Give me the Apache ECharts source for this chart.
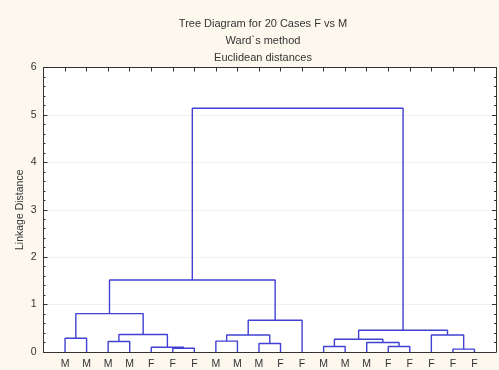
<!DOCTYPE html>
<html><head><meta charset="utf-8">
<script src="https://cdn.jsdelivr.net/npm/echarts@6/dist/echarts.min.js"></script>
<style>html,body{margin:0;padding:0;background:#fdf8ee}#c{width:499px;height:370px}</style>
</head><body><div id="c"></div>
<script>
// Leaf labels (left to right)
const leafLabels = ['M','M','M','M','F','F','F','M','M','M','F','F','M','M','M','F','F','F','F','F'];
// Merges: [left node, right node, linkage distance]; nodes 0..19 are leaves, 20+ are merged clusters in order
const mergeLeft  = [0, 2, 5, 4, 21, 20, 7, 9, 26, 28, 25, 12, 15, 14, 31, 18, 17, 34, 30];
const mergeRight = [1, 3, 6, 22, 23, 24, 8, 10, 27, 11, 29, 13, 16, 32, 33, 19, 35, 36, 37];
const mergeHeight = [0.29, 0.22, 0.08, 0.10, 0.37, 0.81, 0.23, 0.18, 0.36, 0.67, 1.52, 0.115, 0.115, 0.20, 0.27, 0.06, 0.36, 0.46, 5.14];
const yTicks = [0,1,2,3,4,5,6];

const n = leafLabels.length;
const nodeX = [], nodeY = [];
for (let i = 0; i < n; i++) { nodeX.push(i + 1); nodeY.push(0); }
const series = [];
for (let k = 0; k < mergeLeft.length; k++) {
  const a = mergeLeft[k], b = mergeRight[k], h = mergeHeight[k];
  series.push({
    type: 'line', xAxisIndex: 0, yAxisIndex: 0, symbol: 'none', silent: true,
    lineStyle: { color: '#4040d4', width: 1.4 },
    data: [[nodeX[a], nodeY[a]], [nodeX[a], h], [nodeX[b], h], [nodeX[b], nodeY[b]]]
  });
  nodeX.push((nodeX[a] + nodeX[b]) / 2); nodeY.push(h);
}

const chart = echarts.init(document.getElementById('c'), null, { renderer: 'canvas' });
const axisCol = '#333';
chart.setOption({
  animation: false,
  backgroundColor: '#fdf8ee',
  title: {
    text: 'Tree Diagram for 20 Cases F vs M\nWard`s method\nEuclidean distances',
    left: 258, top: 10, textAlign: 'center',
    textStyle: { fontFamily: 'Liberation Sans', fontSize: 11, fontWeight: 'normal', color: '#333', lineHeight: 17 }
  },
  grid: { left: 43.5, top: 67.5, width: 456, height: 288, show: true, backgroundColor: '#ffffff', borderWidth: 0, containLabel: false },
  xAxis: [
    { type: 'value', position: 'bottom', min: 0, max: n + 1, interval: 1,
      axisLine: { show: true, onZero: false, lineStyle: { color: axisCol, width: 1 } },
      axisTick: { show: false }, splitLine: { show: false },
      axisLabel: { margin: 7, fontFamily: 'Liberation Sans', fontSize: 10.5, color: '#333',
        formatter: v => (v >= 1 && v <= n) ? leafLabels[v - 1] : '' } },
    { type: 'value', position: 'top', min: 0, max: n + 1, interval: 1,
      axisLine: { show: true, onZero: false, lineStyle: { color: axisCol, width: 1 } },
      axisTick: { show: true, inside: true, length: 4, lineStyle: { color: axisCol } },
      axisLabel: { show: false }, splitLine: { show: false } }
  ],
  yAxis: [
    { type: 'value', position: 'left', min: 0, max: 6, interval: 1,
      name: 'Linkage Distance', nameLocation: 'middle', nameGap: 18, nameRotate: 90,
      nameMoveOverlap: false,
      nameTextStyle: { fontFamily: 'Liberation Sans', fontSize: 10.5, color: '#333' },
      axisLine: { show: true, onZero: false, lineStyle: { color: axisCol, width: 1 } },
      axisTick: { show: true, inside: true, length: 4, lineStyle: { color: axisCol } },
      minorTick: { show: true, splitNumber: 5, length: 2, lineStyle: { color: axisCol } },
      axisLabel: { margin: 7, fontFamily: 'Liberation Sans', fontSize: 10.5, color: '#333',
        formatter: v => yTicks.includes(v) ? String(v) : '' },
      splitLine: { show: true, lineStyle: { color: '#f1f1ee', width: 1 } } },
    { type: 'value', position: 'right', min: 0, max: 6, interval: 1,
      axisLine: { show: true, onZero: false, lineStyle: { color: axisCol, width: 1 } },
      axisTick: { show: true, inside: true, length: 4, lineStyle: { color: axisCol } },
      minorTick: { show: true, splitNumber: 5, length: 2, lineStyle: { color: axisCol } },
      axisLabel: { show: false }, splitLine: { show: false } }
  ],
  series: series
});
</script></body></html>
